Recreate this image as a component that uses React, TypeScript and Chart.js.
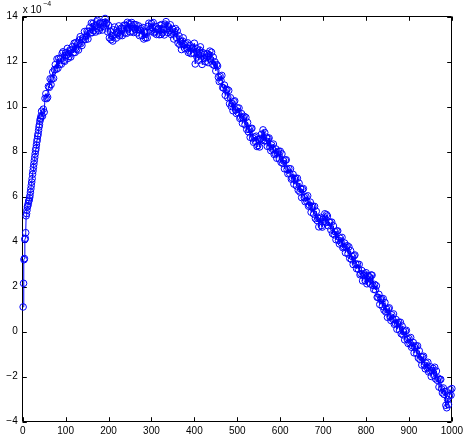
import { useEffect, useRef } from "react";
import { Chart, registerables } from "chart.js";

Chart.register(...registerables);

// sample index (x axis)
const xIndex = [
  1, 2, 3, 4, 5, 6, 7, 8, 9, 10, 11, 12, 13, 14, 15, 16, 17, 18, 19, 20, 21, 22,
  23, 24, 25, 26, 27, 28, 29, 30, 31, 32, 33, 34, 35, 36, 37, 38, 39, 40, 41, 42, 43,
  44, 46, 48, 50, 52, 54, 56, 58, 60, 62,
  64, 66, 68, 70, 72, 74, 76, 78, 80, 82,
  84, 86, 88, 90, 92, 94, 96, 98, 100, 102,
  104, 106, 108, 110, 112, 114, 116, 118, 120, 122,
  124, 126, 128, 130, 132, 134, 136, 138, 140, 142,
  144, 146, 148, 150, 152, 154, 156, 158, 160, 162,
  164, 166, 168, 170, 172, 174, 176, 178, 180, 182,
  184, 186, 188, 190, 192, 194, 196, 198, 200, 202,
  204, 206, 208, 210, 212, 214, 216, 218, 220, 222,
  224, 226, 228, 230, 232, 234, 236, 238, 240, 242,
  244, 246, 248, 250, 252, 254, 256, 258, 260, 262,
  264, 266, 268, 270, 272, 274, 276, 278, 280, 282,
  284, 286, 288, 290, 292, 294, 296, 298, 300, 302,
  304, 306, 308, 310, 312, 314, 316, 318, 320, 322,
  324, 326, 328, 330, 332, 334, 336, 338, 340, 342,
  344, 346, 348, 350, 352, 354, 356, 358, 360, 362,
  364, 366, 368, 370, 372, 374, 376, 378, 380, 382,
  384, 386, 388, 390, 392, 394, 396, 398, 400, 402,
  404, 406, 408, 410, 412, 414, 416, 418, 420, 422,
  424, 426, 428, 430, 432, 434, 436, 438, 440, 442,
  444, 446, 448, 450, 452, 454, 456, 458, 460, 462,
  464, 466, 468, 470, 472, 474, 476, 478, 480, 482,
  484, 486, 488, 490, 492, 494, 496, 498, 500, 502,
  504, 506, 508, 510, 512, 514, 516, 518, 520, 522,
  524, 526, 528, 530, 532, 534, 536, 538, 540, 542,
  544, 546, 548, 550, 552, 554, 556, 558, 560, 562,
  564, 566, 568, 570, 572, 574, 576, 578, 580, 582,
  584, 586, 588, 590, 592, 594, 596, 598, 600, 602,
  604, 606, 608, 610, 612, 614, 616, 618, 620, 622,
  624, 626, 628, 630, 632, 634, 636, 638, 640, 642,
  644, 646, 648, 650, 652, 654, 656, 658, 660, 662,
  664, 666, 668, 670, 672, 674, 676, 678, 680, 682,
  684, 686, 688, 690, 692, 694, 696, 698, 700, 702,
  704, 706, 708, 710, 712, 714, 716, 718, 720, 722,
  724, 726, 728, 730, 732, 734, 736, 738, 740, 742,
  744, 746, 748, 750, 752, 754, 756, 758, 760, 762,
  764, 766, 768, 770, 772, 774, 776, 778, 780, 782,
  784, 786, 788, 790, 792, 794, 796, 798, 800, 802,
  804, 806, 808, 810, 812, 814, 816, 818, 820, 822,
  824, 826, 828, 830, 832, 834, 836, 838, 840, 842,
  844, 846, 848, 850, 852, 854, 856, 858, 860, 862,
  864, 866, 868, 870, 872, 874, 876, 878, 880, 882,
  884, 886, 888, 890, 892, 894, 896, 898, 900, 902,
  904, 906, 908, 910, 912, 914, 916, 918, 920, 922,
  924, 926, 928, 930, 932, 934, 936, 938, 940, 942,
  944, 946, 948, 950, 952, 954, 956, 958, 960, 962,
  964, 966, 968, 970, 972, 974, 976, 978, 980, 982,
  984, 986, 988, 990, 992, 994, 996, 998, 1000,
];

// series value, in units of 1e-4 (the axis shows "x 10^-4")
const seriesValues = [
  1.1, 2.15, 3.2, 3.25, 4.1, 4.15, 4.4, 5.15, 5.25, 5.4, 5.55, 5.6, 5.7, 5.8, 5.85, 5.95, 6.05, 6.2, 6.35, 6.5, 6.65, 6.8,
  7.0, 7.15, 7.3, 7.45, 7.6, 7.75, 7.9, 8.05, 8.15, 8.3, 8.45, 8.55, 8.7, 8.8, 8.95, 9.1, 9.2, 9.35, 9.45, 9.5, 9.6,
  9.8, 9.58, 9.89, 9.76, 10.37, 10.58, 10.36, 10.42, 10.9, 10.86,
  11.24, 10.98, 11.23, 11.54, 11.26, 11.65, 11.87, 11.66, 12.12, 11.71,
  12.15, 11.88, 12.14, 11.89, 12.37, 12.44, 12.06, 12.02, 12.4, 12.28,
  12.59, 12.15, 12.23, 12.52, 12.21, 12.53, 12.67, 12.4, 12.82, 12.41,
  12.85, 12.56, 12.79, 12.52, 12.97, 13.11, 12.81, 12.72, 13.05, 12.98,
  13.34, 12.98, 13.13, 13.36, 13.01, 13.35, 13.52, 13.28, 13.72, 13.29,
  13.7, 13.38, 13.59, 13.32, 13.77, 13.84, 13.46, 13.38, 13.7, 13.51,
  13.74, 13.41, 13.58, 13.74, 13.92, 13.7, 13.72, 13.33, 13.62, 13.06,
  13.35, 12.98, 13.14, 12.92, 13.42, 13.54, 13.21, 13.05, 13.3, 13.24,
  13.59, 13.15, 13.23, 13.49, 13.16, 13.47, 13.62, 13.28, 13.62, 13.26,
  13.75, 13.46, 13.69, 13.32, 13.67, 13.74, 13.36, 13.3, 13.65, 13.44,
  13.64, 13.28, 13.43, 13.59, 13.16, 13.4, 13.47, 13.16, 13.52, 13.01,
  13.35, 13.06, 13.29, 13.06, 13.57, 13.71, 13.41, 13.35, 13.7, 13.51,
  13.74, 13.28, 13.33, 13.56, 13.21, 13.43, 13.47, 13.2, 13.62, 13.21,
  13.65, 13.28, 13.44, 13.19, 13.67, 13.78, 13.46, 13.3, 13.55, 13.38,
  13.64, 13.21, 13.28, 13.44, 13.01, 13.33, 13.47, 13.08, 13.37, 12.83,
  13.15, 12.76, 12.89, 12.54, 12.92, 13.06, 12.76, 12.58, 12.8, 12.61,
  12.84, 12.41, 12.48, 12.72, 12.36, 12.57, 12.62, 12.38, 12.82, 11.9,
  12.6, 12.21, 12.34, 12.06, 12.52, 12.66, 12.36, 11.88, 12.4, 12.16,
  12.34, 12.01, 12.18, 12.36, 11.96, 12.3, 12.47, 12.1, 12.42, 11.89,
  12.2, 11.84, 11.99, 11.59, 11.87, 11.81, 11.31, 11.12, 11.35, 11.16,
  11.39, 10.85, 10.83, 10.96, 10.51, 10.73, 10.77, 10.4, 10.72, 10.13,
  10.4, 10.01, 10.14, 9.82, 10.22, 10.26, 9.86, 9.7, 9.95, 9.74,
  9.94, 9.48, 9.53, 9.69, 9.26, 9.5, 9.57, 9.2, 9.52, 8.99,
  9.3, 8.88, 8.99, 8.64, 9.02, 9.04, 8.61, 8.42, 8.65, 8.46,
  8.69, 8.23, 8.28, 8.54, 8.21, 8.57, 8.77, 8.53, 8.97, 8.49,
  8.85, 8.48, 8.64, 8.24, 8.57, 8.61, 8.21, 8.05, 8.3, 8.11,
  8.34, 7.88, 7.93, 8.12, 7.71, 7.95, 8.02, 7.68, 8.02, 7.53,
  7.9, 7.48, 7.59, 7.24, 7.62, 7.64, 7.21, 7.02, 7.25, 7.04,
  7.24, 6.78, 6.83, 6.99, 6.56, 6.77, 6.82, 6.48, 6.82, 6.29,
  6.6, 6.21, 6.34, 5.96, 6.32, 6.36, 5.96, 5.78, 6.0, 5.81,
  6.04, 5.58, 5.63, 5.76, 5.31, 5.53, 5.57, 5.23, 5.57, 5.03,
  5.35, 4.94, 5.04, 4.66, 5.02, 5.08, 4.71, 4.65, 5.0, 4.91,
  5.24, 4.85, 5.2, 5.14, 4.71, 4.87, 4.87, 4.53, 4.87, 4.36,
  4.7, 4.31, 4.44, 4.09, 4.47, 4.48, 4.06, 3.9, 4.15, 3.96,
  4.19, 3.73, 3.78, 3.94, 3.51, 3.75, 3.82, 3.46, 3.77, 3.26,
  3.6, 3.21, 3.34, 2.99, 3.37, 3.41, 3.01, 2.8, 3.0, 2.78,
  2.99, 2.53, 2.58, 2.72, 2.26, 2.5, 2.57, 2.26, 2.62, 2.13,
  2.5, 2.21, 2.44, 2.12, 2.52, 2.51, 2.06, 1.88, 2.1, 1.86,
  2.04, 1.53, 1.53, 1.66, 1.21, 1.43, 1.47, 1.13, 1.47, 0.96,
  1.3, 0.88, 0.99, 0.64, 1.02, 1.06, 0.66, 0.5, 0.75, 0.56,
  0.79, 0.33, 0.38, 0.54, 0.11, 0.35, 0.42, 0.08, 0.42, -0.09,
  0.25, -0.14, -0.01, -0.36, 0.02, 0.06, -0.34, -0.52, -0.3, -0.49,
  -0.26, -0.69, -0.62, -0.48, -0.94, -0.7, -0.63, -0.97, -0.63, -1.17,
  -0.85, -1.24, -1.11, -1.48, -1.13, -1.09, -1.49, -1.65, -1.4, -1.59,
  -1.36, -1.79, -1.72, -1.56, -1.99, -1.73, -1.63, -1.94, -1.58, -2.09,
  -1.75, -2.16, -2.06, -2.46, -2.13, -2.12, -2.54, -2.72, -2.5, -2.79,
  -2.66, -3.27, -3.38, -3.01, -3.24, -2.85, -2.58, -2.82, -2.53,
];

const xTickValues = [0, 100, 200, 300, 400, 500, 600, 700, 800, 900, 1000];
const yTickValues = [-4, -2, 0, 2, 4, 6, 8, 10, 12, 14];
const exponentBase = "x 10";
const exponentPower = "\u22124";

const FONT = '"Liberation Sans", Arial, Helvetica, sans-serif';

const matlabFrame = {
  id: "matlabFrame",
  beforeDatasetsDraw(chart: any) {
    const { ctx, chartArea: a, scales } = chart;
    const L = Math.floor(a.left) + 0.5;
    const R = Math.floor(a.right) + 0.5;
    const T = Math.floor(a.top) + 0.5;
    const B = Math.floor(a.bottom) + 0.5;
    const tl = 4.3;
    ctx.save();
    ctx.strokeStyle = "#000";
    ctx.lineWidth = 1;
    ctx.beginPath();
    ctx.rect(L, T, R - L, B - T);
    for (const v of xTickValues) {
      const p = Math.round(scales.x.getPixelForValue(v)) + 0.5;
      ctx.moveTo(p, B);
      ctx.lineTo(p, B - tl);
      ctx.moveTo(p, T);
      ctx.lineTo(p, T + tl);
    }
    for (const v of yTickValues) {
      const p = Math.round(scales.y.getPixelForValue(v)) + 0.5;
      ctx.moveTo(L, p);
      ctx.lineTo(L + tl, p);
      ctx.moveTo(R, p);
      ctx.lineTo(R - tl, p);
    }
    ctx.stroke();
    ctx.restore();
  },
  afterDraw(chart: any) {
    const { ctx, chartArea: a } = chart;
    ctx.save();
    ctx.fillStyle = "#000";
    ctx.textAlign = "left";
    ctx.textBaseline = "alphabetic";
    ctx.font = `10px ${FONT}`;
    ctx.fillText(exponentBase, a.left, 12.7);
    const w = ctx.measureText(exponentBase).width;
    ctx.font = `7px ${FONT}`;
    ctx.fillText(exponentPower, a.left + w + 1.5, 6.2);
    ctx.restore();
  },
};

export default function App() {
  const canvasRef = useRef<HTMLCanvasElement | null>(null);

  useEffect(() => {
    document.body.style.margin = "0";
    const canvas = canvasRef.current;
    if (!canvas) return;
    const points = xIndex.map((x, i) => ({ x, y: seriesValues[i] }));
    const chart = new Chart(canvas, {
      type: "line",
      data: {
        datasets: [
          {
            data: points,
            borderColor: "#0000ff",
            borderWidth: 1,
            pointRadius: 3.3,
            pointBorderWidth: 1,
            pointBorderColor: "#0000ff",
            pointBackgroundColor: "rgba(0,0,0,0)",
            pointStyle: "circle",
            tension: 0,
            fill: false,
            clip: 6,
          },
        ],
      },
      options: {
        animation: false,
        responsive: false,
        maintainAspectRatio: false,
        devicePixelRatio: 1,
        events: [],
        layout: { padding: { top: 16.7, right: 11, left: 0, bottom: 0 } },
        plugins: {
          legend: { display: false },
          tooltip: { enabled: false },
          title: { display: false },
        },
        scales: {
          x: {
            type: "linear",
            min: 0,
            max: 1000,
            afterBuildTicks: (scale: any) => {
              scale.ticks = xTickValues.map((value) => ({ value }));
            },
            afterFit: (scale: any) => {
              scale.height = 19.3;
            },
            grid: { display: false, drawTicks: false },
            border: { display: false },
            ticks: {
              font: { family: FONT, size: 10 },
              color: "#000",
              padding: 4,
              maxRotation: 0,
              autoSkip: false,
              callback: (v: any) => String(v),
            },
          },
          y: {
            type: "linear",
            min: -4,
            max: 14,
            afterBuildTicks: (scale: any) => {
              scale.ticks = yTickValues.map((value) => ({ value }));
            },
            afterFit: (scale: any) => {
              scale.width = 22.7;
            },
            grid: { display: false, drawTicks: false },
            border: { display: false },
            ticks: {
              font: { family: FONT, size: 10 },
              color: "#000",
              padding: 5,
              autoSkip: false,
              callback: (v: any) => String(v).replace("-", "\u2212"),
            },
          },
        },
      },
      plugins: [matlabFrame],
    });
    return () => chart.destroy();
  }, []);

  return (
    <div style={{ position: "absolute", left: 0, top: 0, width: 467, height: 441, background: "#fff" }}>
      <canvas ref={canvasRef} width={467} height={441} style={{ display: "block" }} />
    </div>
  );
}
